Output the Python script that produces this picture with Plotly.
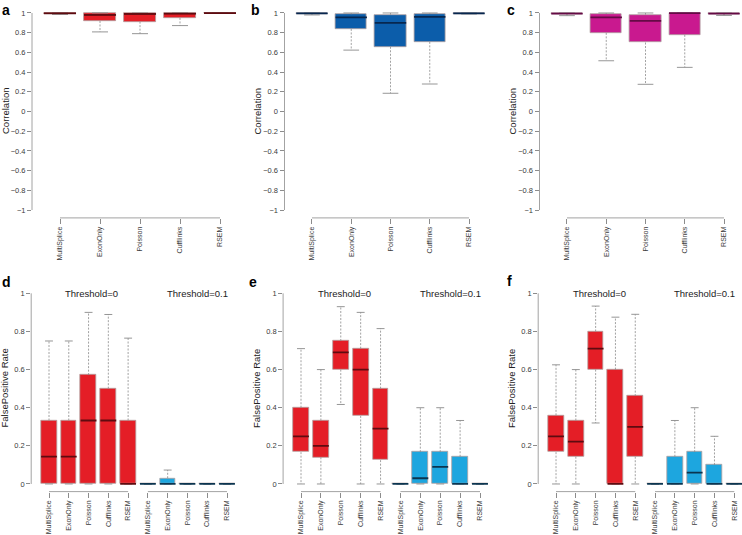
import plotly.graph_objects as go
import numpy as np

W, H = 742, 535

methods = ["MultiSplice", "ExonOnly", "Poisson", "Cufflinks", "RSEM"]
fpr_labels = methods + methods
corr_ticks = [-1, -0.8, -0.6, -0.4, -0.2, 0, 0.2, 0.4, 0.6, 0.8, 1]
fpr_ticks = [0, 0.2, 0.4, 0.6, 0.8, 1]
threshold_labels = ["Threshold=0", "Threshold=0.1"]

# ---- Correlation panels (a, b, c): whisker low, Q1, median, Q3, whisker high
a_low = [0.985, 0.808, 0.790, 0.872, 0.995]
a_q1 = [0.993, 0.919, 0.912, 0.950, 0.998]
a_med = [0.997, 0.980, 0.990, 0.993, 0.999]
a_q3 = [1.000, 1.000, 1.000, 1.000, 1.000]
a_high = [1.000, 1.000, 1.000, 1.000, 1.000]

b_low = [0.980, 0.623, 0.185, 0.279, 0.990]
b_q1 = [0.990, 0.838, 0.657, 0.707, 0.993]
b_med = [0.995, 0.956, 0.899, 0.960, 0.996]
b_q3 = [1.000, 0.987, 0.983, 0.993, 0.999]
b_high = [1.000, 1.000, 1.000, 1.000, 1.000]

c_low = [0.973, 0.515, 0.276, 0.448, 0.975]
c_q1 = [0.988, 0.798, 0.700, 0.778, 0.990]
c_med = [0.993, 0.956, 0.919, 0.998, 0.994]
c_q3 = [0.998, 0.990, 0.983, 1.000, 0.998]
c_high = [1.000, 1.000, 1.000, 1.000, 1.000]

# ---- False positive rate panels (d, e, f): Threshold=0 (5) then Threshold=0.1 (5)
d_low = [0, 0, 0, 0, 0, 0, 0, 0, 0, 0]
d_q1 = [0, 0, 0, 0, 0, 0, 0, 0, 0, 0]
d_med = [0.143, 0.143, 0.333, 0.333, 0, 0, 0, 0, 0, 0]
d_q3 = [0.333, 0.333, 0.571, 0.500, 0.333, 0, 0.030, 0, 0, 0]
d_high = [0.750, 0.750, 0.900, 0.889, 0.765, 0, 0.073, 0, 0, 0]

e_low = [0, 0, 0.417, 0, 0, 0, 0, 0, 0, 0]
e_q1 = [0.167, 0.140, 0.600, 0.357, 0.125, 0, 0, 0, 0, 0]
e_med = [0.250, 0.200, 0.690, 0.600, 0.290, 0, 0.030, 0.090, 0, 0]
e_q3 = [0.400, 0.333, 0.750, 0.710, 0.500, 0, 0.167, 0.167, 0.143, 0]
e_high = [0.710, 0.600, 0.930, 0.900, 0.815, 0, 0.400, 0.400, 0.333, 0]

f_low = [0, 0, 0.320, 0, 0, 0, 0, 0, 0, 0]
f_q1 = [0.167, 0.143, 0.600, 0, 0.143, 0, 0, 0, 0, 0]
f_med = [0.250, 0.222, 0.710, 0, 0.300, 0, 0, 0.060, 0, 0]
f_q3 = [0.360, 0.333, 0.800, 0.600, 0.461, 0, 0.143, 0.167, 0.100, 0]
f_high = [0.625, 0.600, 0.933, 0.875, 0.890, 0, 0.333, 0.400, 0.250, 0]

RED, RED_D = "#E41E26", "#5E0B10"
BLUE, BLUE_D = "#0C5DAA", "#07274F"
MAG, MAG_D = "#C9198F", "#650A45"
LBLUE, LBLUE_D = "#1DA6DF", "#0B3550"
BORDER = "#B0A0A0"
WHISK = "#8A8A8A"
AXIS = "#8C8C8C"
TXT = "#3A3A3A"
FONT = "Liberation Sans, Arial, sans-serif"

fig = go.Figure()


def ax(k):
    return "" if k == 1 else str(k)


def add_box_panel(k, low, q1, med, q3, high, fills, meds):
    xa, ya = "x" + ax(k), "y" + ax(k)
    n = len(med)
    pos = np.arange(1, n + 1)
    # whiskers (dashed)
    wx, wy = [], []
    for i in range(n):
        p = pos[i]
        if high[i] > q3[i]:
            wx += [p, p, None]
            wy += [q3[i], high[i], None]
        if low[i] < q1[i]:
            wx += [p, p, None]
            wy += [q1[i], low[i], None]
    fig.add_trace(go.Scatter(x=wx, y=wy, mode="lines", xaxis=xa, yaxis=ya,
                             line=dict(color=WHISK, width=0.8, dash="2px,1.5px"),
                             showlegend=False, hoverinfo="skip"))
    # caps
    cx, cy = [], []
    for i in range(n):
        p = pos[i]
        for v in (high[i], low[i]):
            cx += [p - 0.2, p + 0.2, None]
            cy += [v, v, None]
    fig.add_trace(go.Scatter(x=cx, y=cy, mode="lines", xaxis=xa, yaxis=ya,
                             line=dict(color=WHISK, width=0.9),
                             showlegend=False, hoverinfo="skip"))
    # boxes
    fig.add_trace(go.Bar(x=pos, base=q1, y=[q3[i] - q1[i] for i in range(n)],
                         width=0.8, xaxis=xa, yaxis=ya,
                         marker=dict(color=fills, line=dict(color=BORDER, width=0.8)),
                         showlegend=False, hoverinfo="skip"))
    # medians
    for i in range(n):
        p = pos[i]
        fig.add_trace(go.Scatter(x=[p - 0.4, p + 0.4], y=[med[i], med[i]], mode="lines",
                                 xaxis=xa, yaxis=ya,
                                 line=dict(color=meds[i], width=1.8),
                                 showlegend=False, hoverinfo="skip"))


add_box_panel(1, a_low, a_q1, a_med, a_q3, a_high, [RED] * 5, [RED_D] * 5)
add_box_panel(2, b_low, b_q1, b_med, b_q3, b_high, [BLUE] * 5, [BLUE_D] * 5)
add_box_panel(3, c_low, c_q1, c_med, c_q3, c_high, [MAG] * 5, [MAG_D] * 5)
grp_fill = [RED] * 5 + [LBLUE] * 5
grp_med = [RED_D] * 5 + [LBLUE_D] * 5
add_box_panel(4, d_low, d_q1, d_med, d_q3, d_high, grp_fill, grp_med)
add_box_panel(5, e_low, e_q1, e_med, e_q3, e_high, grp_fill, grp_med)
add_box_panel(6, f_low, f_q1, f_med, f_q3, f_high, grp_fill, grp_med)

# ---- layout geometry (pixels)
top_y = (5.1, 217.9)
bot_y = (285.7, 491.6)
panels = [
    (1, (32.0, 248.0), [0.3, 5.7], top_y, [-1.08, 1.08], methods, corr_ticks),
    (2, (284.5, 496.5), [0.3, 5.7], top_y, [-1.08, 1.08], methods, corr_ticks),
    (3, (539.5, 742.0), [0.3, 5.458], top_y, [-1.08, 1.08], methods, corr_ticks),
    (4, (31.2, 244.8), [0.1, 10.9], bot_y, [-0.04, 1.04], fpr_labels, fpr_ticks),
    (5, (283.1, 497.9), [0.1, 10.9], bot_y, [-0.04, 1.04], fpr_labels, fpr_ticks),
    (6, (538.2, 742.0), [0.1, 10.39], bot_y, [-0.04, 1.04], fpr_labels, fpr_ticks),
]

layout = dict(width=W, height=H, margin=dict(l=0, r=0, t=0, b=0, pad=0),
              paper_bgcolor="white", plot_bgcolor="white",
              font=dict(family=FONT, color=TXT), bargap=0, barmode="overlay")
shapes = []
annotations = []
for k, xpx, xr, ypx, yr, labs, yt in panels:
    n = len(labs)
    s = ax(k)
    layout["xaxis" + s] = dict(
        domain=[xpx[0] / W, xpx[1] / W], range=xr, anchor="y" + s,
        tickvals=list(range(1, n + 1)), ticktext=labs, tickangle=-90,
        ticks="outside", ticklen=5, tickcolor=AXIS, tickwidth=0.8,
        showgrid=False, zeroline=False, showline=False, automargin=False,
        tickfont=dict(size=7, color=TXT, family=FONT), fixedrange=True)
    layout["yaxis" + s] = dict(
        domain=[1 - ypx[1] / H, 1 - ypx[0] / H], range=yr, anchor="x" + s,
        tickvals=yt, ticks="outside", ticklen=4, tickcolor=AXIS, tickwidth=0.8,
        showgrid=False, zeroline=False, showline=False, automargin=False,
        tickfont=dict(size=7.5, color=TXT, family=FONT), fixedrange=True)
    # R-style axis lines spanning first to last tick
    shapes.append(dict(type="line", xref="x" + s + " domain", yref="y" + s,
                       x0=0, x1=0, y0=yt[0], y1=yt[-1],
                       line=dict(color=AXIS, width=0.8)))
    segs = [(1, 5)] if n == 5 else [(1, 5), (6, 10)]
    for s0, s1 in segs:
        shapes.append(dict(type="line", xref="x" + s, yref="y" + s + " domain",
                           x0=s0, x1=s1, y0=0, y1=0,
                           line=dict(color=AXIS, width=0.8)))
    if n == 10:
        for tx, lab in zip([3.17, 8.52], threshold_labels):
            annotations.append(dict(xref="x" + s, yref="y" + s, x=tx, y=1.0,
                                    text=lab, showarrow=False, xanchor="center",
                                    yanchor="middle",
                                    font=dict(size=9.5, color="#222", family=FONT)))

# panel letters
for lab, px, py in [("a", 0, 0), ("b", 249, 0), ("c", 505, 0),
                    ("d", 0, 272), ("e", 247, 272), ("f", 505, 271)]:
    annotations.append(dict(xref="paper", yref="paper", x=px / W, y=1 - py / H,
                            text="<b>%s</b>" % lab, showarrow=False,
                            xanchor="left", yanchor="top",
                            font=dict(size=14, color="black", family=FONT)))

# y-axis titles
for lab, px, py in [("Correlation", 5.5, 111.5), ("Correlation", 257, 111.5),
                    ("Correlation", 512, 111.5), ("FalsePositive Rate", 4, 388.5),
                    ("FalsePositive Rate", 256.5, 388.5),
                    ("FalsePositive Rate", 511.5, 388.5)]:
    annotations.append(dict(xref="paper", yref="paper", x=px / W, y=1 - py / H,
                            text=lab, showarrow=False, textangle=-90,
                            xanchor="center", yanchor="middle",
                            font=dict(size=9.5, color="#222", family=FONT)))

layout["shapes"] = shapes
layout["annotations"] = annotations
fig.update_layout(**layout)
fig.write_html("out.html", config={"displayModeBar": False},
               post_script="document.body.style.margin='0px';")
